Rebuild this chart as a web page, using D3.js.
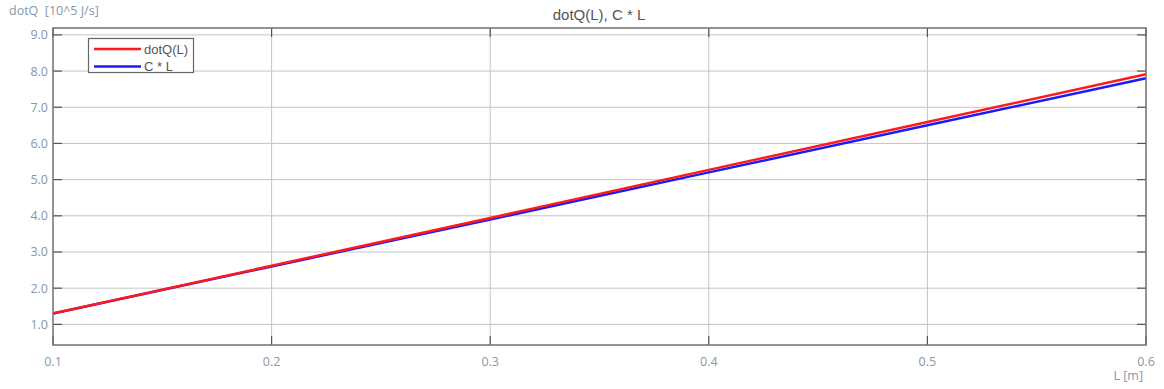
<!DOCTYPE html>
<html><head><meta charset="utf-8">
<script src="https://cdn.jsdelivr.net/npm/d3@7"></script>
<style>body{margin:0;background:#fff}svg{display:block}</style>
</head><body>
<svg id="c" width="1164" height="389"></svg>
<script>
const xValues = [0.1, 0.2, 0.3, 0.4, 0.5, 0.6];
const dotQValues = [1.30, 2.62, 3.94, 5.27, 6.59, 7.91];
const cLValues = [1.30, 2.60, 3.90, 5.20, 6.50, 7.80];
const xTicks = [0.1, 0.2, 0.3, 0.4, 0.5, 0.6];
const yTicks = [1, 2, 3, 4, 5, 6, 7, 8, 9];
const seriesNames = ["dotQ(L)", "C * L"];
const seriesColors = ["#ff1a1a", "#1a1aff"];

const svg = d3.select("#c");
const L = 53, R = 1146, T = 28, B = 345;
const x = d3.scaleLinear().domain([0.1, 0.6]).range([L, R]);
const y = d3.scaleLinear().domain([0.43, 9.19]).range([B, T]);

const grid = svg.append("g");
grid.selectAll("line.h").data(yTicks).join("line")
  .attr("x1", L).attr("x2", R).attr("y1", d => y(d)).attr("y2", d => y(d))
  .attr("stroke", "#c4c4c4").attr("stroke-width", 1);
grid.selectAll("line.v").data(xTicks.slice(1, -1)).join("line")
  .attr("class","v")
  .attr("y1", T).attr("y2", B).attr("x1", d => x(d)).attr("x2", d => x(d))
  .attr("stroke", "#c4c4c4").attr("stroke-width", 1);

// inner tick marks
const tl = 9;
const tk = svg.append("g").attr("stroke", "#555").attr("stroke-width", 1.2);
yTicks.forEach(v => {
  tk.append("line").attr("x1", L).attr("x2", L + tl).attr("y1", y(v)).attr("y2", y(v));
  tk.append("line").attr("x1", R - tl).attr("x2", R).attr("y1", y(v)).attr("y2", y(v));
});
xTicks.forEach(v => {
  tk.append("line").attr("x1", x(v)).attr("x2", x(v)).attr("y1", B).attr("y2", B - tl);
  tk.append("line").attr("x1", x(v)).attr("x2", x(v)).attr("y1", T).attr("y2", T + tl);
});

// lines
const series = [dotQValues, cLValues];
const line = d3.line().x((d, i) => x(xValues[i])).y(d => y(d));
[1, 0].forEach(k => {
  svg.append("path").datum(series[k]).attr("d", line)
    .attr("fill", "none").attr("stroke", seriesColors[k]).attr("stroke-width", 2.5);
});

// frame
svg.append("rect").attr("x", L).attr("y", T).attr("width", R - L).attr("height", B - T)
  .attr("fill", "none").attr("stroke", "#707070").attr("stroke-width", 1.5);

// axis labels
const lab = "'Open Sans', 'DejaVu Sans', sans-serif";
const labColor = "#8797aa";
svg.append("g").selectAll("text").data(yTicks).join("text")
  .attr("x", L - 5).attr("y", d => y(d) + 4.5).attr("text-anchor", "end")
  .attr("font-family", lab).attr("font-size", 12.5).attr("fill", labColor)
  .text(d => d3.format(".1f")(d));
svg.append("g").selectAll("text").data(xTicks).join("text")
  .attr("x", d => x(d)).attr("y", 366).attr("text-anchor", "middle")
  .attr("font-family", lab).attr("font-size", 12.5).attr("fill", labColor)
  .text(d => d3.format(".1f")(d));
svg.append("text").attr("x", 9).attr("y", 15).attr("font-family", lab)
  .attr("font-size", 12.5).attr("fill", labColor).attr("xml:space", "preserve")
  .text("dotQ  [10^5 J/s]");
svg.append("text").attr("x", 1143).attr("y", 380).attr("text-anchor", "end")
  .attr("font-family", lab).attr("font-size", 12.5).attr("fill", labColor)
  .text("L [m]");

// title
svg.append("text").attr("x", 599).attr("y", 20).attr("text-anchor", "middle")
  .attr("font-family", "'Liberation Sans', Arial, sans-serif").attr("font-size", 15)
  .attr("fill", "#555").text("dotQ(L), C * L");

// legend
const lg = svg.append("g");
lg.append("rect").attr("x", 88.5).attr("y", 38.5).attr("width", 105).attr("height", 34)
  .attr("fill", "#fff").attr("stroke", "#666").attr("stroke-width", 1.2);
seriesNames.forEach((n, i) => {
  const yy = 49 + i * 17.5;
  lg.append("line").attr("x1", 94).attr("x2", 141).attr("y1", yy).attr("y2", yy)
    .attr("stroke", seriesColors[i]).attr("stroke-width", 2.5);
  lg.append("text").attr("x", 144).attr("y", yy + 4.5)
    .attr("font-family", "'Liberation Sans', Arial, sans-serif").attr("font-size", 13)
    .attr("fill", "#555").text(n);
});
</script>
</body></html>
